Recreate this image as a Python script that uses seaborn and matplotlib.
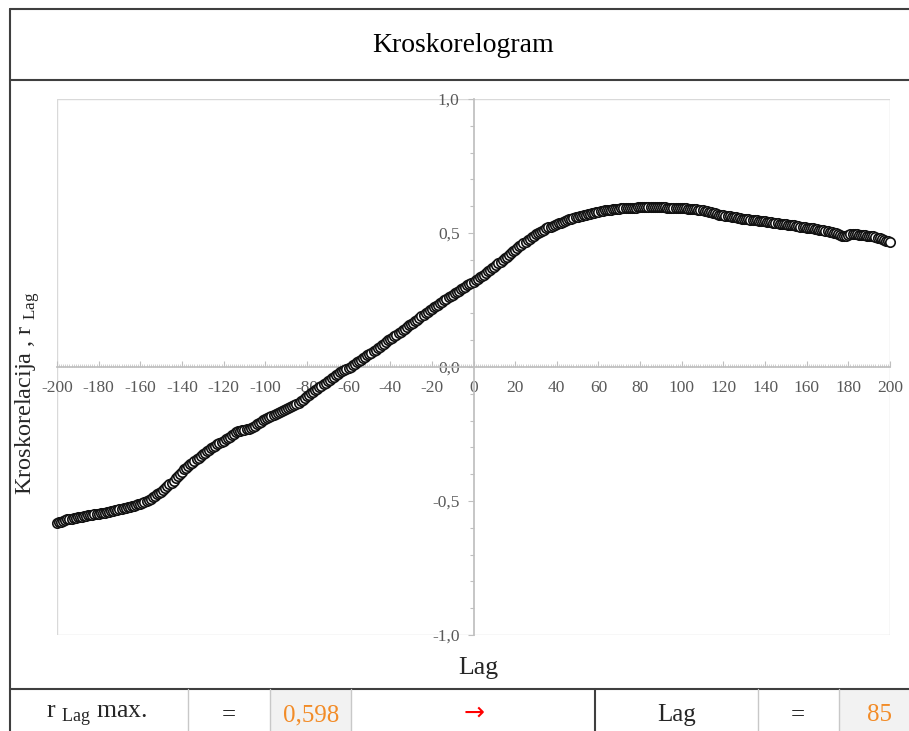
import matplotlib
matplotlib.use("Agg")
import matplotlib.pyplot as plt
import matplotlib.ticker as mticker
from matplotlib.patches import Rectangle
import seaborn as sns

# lags -200..200 and the cross-correlation (10 per row)
lags = list(range(-200, 201))
r_lag = [
    -0.582, -0.579, -0.578, -0.574, -0.571, -0.569, -0.567, -0.566, -0.563, -0.562,
    -0.561, -0.559, -0.558, -0.556, -0.555, -0.554, -0.553, -0.551, -0.550, -0.549,
    -0.548, -0.546, -0.545, -0.543, -0.541, -0.540, -0.538, -0.536, -0.534, -0.532,
    -0.530, -0.528, -0.527, -0.525, -0.523, -0.521, -0.519, -0.517, -0.514, -0.512,
    -0.510, -0.507, -0.504, -0.500, -0.496, -0.491, -0.486, -0.480, -0.475, -0.470,
    -0.465, -0.458, -0.452, -0.445, -0.438, -0.431, -0.424, -0.416, -0.407, -0.398,
    -0.390, -0.382, -0.375, -0.369, -0.363, -0.357, -0.351, -0.345, -0.339, -0.332,
    -0.325, -0.320, -0.314, -0.309, -0.303, -0.298, -0.294, -0.289, -0.284, -0.279,
    -0.275, -0.270, -0.265, -0.260, -0.255, -0.249, -0.244, -0.240, -0.237, -0.235,
    -0.234, -0.233, -0.231, -0.228, -0.224, -0.219, -0.214, -0.209, -0.204, -0.199,
    -0.195, -0.191, -0.187, -0.183, -0.179, -0.175, -0.172, -0.168, -0.164, -0.160,
    -0.157, -0.153, -0.149, -0.145, -0.141, -0.137, -0.133, -0.128, -0.122, -0.116,
    -0.110, -0.104, -0.098, -0.092, -0.087, -0.082, -0.076, -0.070, -0.064, -0.058,
    -0.052, -0.047, -0.042, -0.037, -0.031, -0.026, -0.020, -0.015, -0.011, -0.007,
    -0.003, 0.001, 0.006, 0.011, 0.017, 0.022, 0.027, 0.033, 0.039, 0.044,
    0.049, 0.054, 0.059, 0.064, 0.070, 0.075, 0.081, 0.087, 0.093, 0.099,
    0.105, 0.110, 0.116, 0.121, 0.126, 0.131, 0.137, 0.143, 0.149, 0.155,
    0.160, 0.166, 0.171, 0.177, 0.183, 0.189, 0.195, 0.201, 0.207, 0.212,
    0.218, 0.223, 0.228, 0.233, 0.238, 0.244, 0.249, 0.255, 0.260, 0.265,
    0.270, 0.275, 0.280, 0.285, 0.290, 0.295, 0.300, 0.305, 0.310, 0.314,
    0.318, 0.323, 0.328, 0.334, 0.339, 0.345, 0.351, 0.357, 0.363, 0.369,
    0.375, 0.381, 0.387, 0.393, 0.399, 0.405, 0.411, 0.418, 0.425, 0.432,
    0.438, 0.445, 0.451, 0.457, 0.462, 0.468, 0.473, 0.479, 0.484, 0.490,
    0.495, 0.500, 0.505, 0.509, 0.513, 0.517, 0.521, 0.524, 0.527, 0.530,
    0.533, 0.536, 0.539, 0.542, 0.545, 0.548, 0.551, 0.553, 0.556, 0.558,
    0.560, 0.562, 0.564, 0.566, 0.568, 0.570, 0.572, 0.574, 0.576, 0.578,
    0.580, 0.582, 0.583, 0.584, 0.585, 0.586, 0.587, 0.588, 0.589, 0.590,
    0.591, 0.592, 0.592, 0.593, 0.593, 0.594, 0.594, 0.595, 0.595, 0.596,
    0.596, 0.596, 0.597, 0.597, 0.597, 0.598, 0.597, 0.597, 0.597, 0.597,
    0.596, 0.596, 0.596, 0.595, 0.595, 0.595, 0.594, 0.594, 0.594, 0.593,
    0.593, 0.592, 0.592, 0.591, 0.590, 0.589, 0.589, 0.588, 0.587, 0.586,
    0.585, 0.583, 0.581, 0.579, 0.577, 0.575, 0.573, 0.571, 0.569, 0.567,
    0.566, 0.565, 0.563, 0.562, 0.561, 0.560, 0.558, 0.557, 0.556, 0.554,
    0.553, 0.552, 0.551, 0.550, 0.549, 0.548, 0.547, 0.546, 0.545, 0.544,
    0.543, 0.542, 0.541, 0.540, 0.539, 0.538, 0.537, 0.535, 0.534, 0.533,
    0.532, 0.531, 0.530, 0.529, 0.528, 0.527, 0.525, 0.524, 0.523, 0.521,
    0.520, 0.519, 0.518, 0.517, 0.515, 0.514, 0.513, 0.511, 0.510, 0.508,
    0.507, 0.505, 0.503, 0.501, 0.499, 0.497, 0.493, 0.489, 0.487, 0.490,
    0.494, 0.497, 0.498, 0.497, 0.496, 0.494, 0.493, 0.492, 0.491, 0.490,
    0.489, 0.488, 0.487, 0.485, 0.483, 0.481, 0.478, 0.475, 0.472, 0.469,
    0.466,
]

x_ticks = list(range(-200, 201, 20))
y_ticks = [-1.0, -0.5, 0.0, 0.5, 1.0]
y_tick_labels = ["-1,0", "-0,5", "0,0", "0,5", "1,0"]

r_max_text = "0,598"
lag_max_text = "85"

sns.set_theme(style="white")
plt.rcParams["font.family"] = ["Liberation Serif", "DejaVu Serif"]
plt.rcParams["mathtext.fontset"] = "custom"
plt.rcParams["mathtext.rm"] = "Liberation Serif"
plt.rcParams["axes.unicode_minus"] = False

W, H = 909, 731
fig = plt.figure(figsize=(W / 100, H / 100), dpi=100)

# background layer in pixel coordinates for the frame / title band / table
bg = fig.add_axes([0, 0, 1, 1], zorder=0)
bg.set_xlim(0, W)
bg.set_ylim(H, 0)
bg.axis("off")

dark = "#3f3f3f"
light = "#c8c8c8"
bg.plot([10, 10], [9, H], color=dark, lw=1.5)
bg.plot([10, W], [9, 9], color=dark, lw=1.5)
bg.plot([10, W], [80, 80], color=dark, lw=1.5)
bg.plot([10, W], [689, 689], color=dark, lw=1.5)
for xv in [188, 270, 351, 758, 839]:
    bg.plot([xv, xv], [689, H], color=light, lw=1)
bg.plot([595, 595], [689, H], color=dark, lw=1.5)
bg.add_patch(Rectangle((271, 690), 80, 41, facecolor="#f2f2f2", edgecolor="none"))
bg.add_patch(Rectangle((840, 690), 69, 41, facecolor="#f2f2f2", edgecolor="none"))

bg.text(463, 45, "Kroskorelogram", fontsize=20, ha="center", va="center", color="black")

ty = 715
bg.text(97, ty, r"r $_{\mathrm{Lag}}$ max.", fontsize=18.5, ha="center", va="center")
bg.text(229, ty, "=", fontsize=18, ha="center", va="center")
bg.text(311, ty, r_max_text, fontsize=18, ha="center", va="center", color="#f28c28")
bg.text(474, ty - 2, "\u2192", fontsize=18, ha="center", va="center", color="#ff0000",
        family=["DejaVu Sans"])
bg.text(677, ty, "Lag", fontsize=18, ha="center", va="center")
bg.text(798, ty, "=", fontsize=18, ha="center", va="center")
bg.text(880, ty, lag_max_text, fontsize=18, ha="center", va="center", color="#f28c28")

bg.text(478, 668, "Lag", fontsize=18.5, ha="center", va="center")
bg.text(28, 393, r"Kroskorelacija , r $_{\mathrm{Lag}}$", fontsize=17.5,
        ha="center", va="center", rotation=90)

# main chart
ax = fig.add_axes([57 / W, 1 - 635 / H, (890 - 57) / W, (635 - 99) / H], zorder=1)
sns.scatterplot(x=lags, y=r_lag, ax=ax, marker="o", s=46, color="white",
                edgecolor="#111111", linewidth=1.2, zorder=3, legend=False,
                clip_on=False)

ax.set_xlim(-200, 200)
ax.set_ylim(-1, 1)

axis_grey = "#bfbfbf"
for side in ["top", "right"]:
    ax.spines[side].set_visible(False)
ax.spines["left"].set_position(("data", 0))
ax.spines["bottom"].set_position(("data", 0))
ax.spines["left"].set_color(axis_grey)
ax.spines["bottom"].set_color(axis_grey)
ax.add_patch(Rectangle((0, 0), 1, 1, transform=ax.transAxes, fill=False,
                       edgecolor="#d9d9d9", lw=1, zorder=0))

ax.set_xticks(x_ticks)
ax.xaxis.set_minor_locator(mticker.MultipleLocator(1))
ax.set_yticks(y_ticks)
ax.set_yticklabels(y_tick_labels)
ax.yaxis.set_minor_locator(mticker.MultipleLocator(0.1))

ax.tick_params(axis="x", which="major", direction="in", length=4, width=0.8,
               color=axis_grey, labelsize=12.5, labelcolor="#595959", pad=9,
               bottom=True)
ax.tick_params(axis="x", which="minor", direction="in", length=2.5, width=0.5,
               color=axis_grey, bottom=True)
ax.tick_params(axis="y", which="major", direction="out", length=4, width=0.8,
               color=axis_grey, labelsize=12.5, labelcolor="#595959", pad=6,
               left=True)
ax.tick_params(axis="y", which="minor", direction="out", length=3, width=0.8,
               color=axis_grey, left=True)
ax.set_xlabel("")
ax.set_ylabel("")

fig.savefig("out.png", dpi=100)
